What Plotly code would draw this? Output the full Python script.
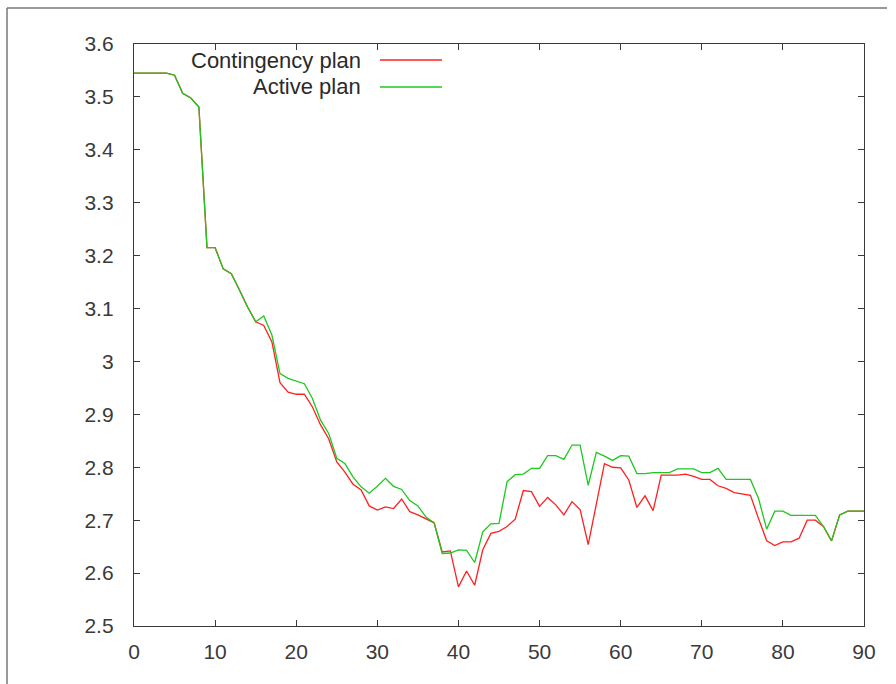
import plotly.graph_objects as go

# Time steps (x) and plan cost for each series
steps = list(range(0, 91))

contingency = [
    3.545, 3.545, 3.545, 3.545, 3.545, 3.541, 3.507, 3.498, 3.481, 3.215,
    3.215, 3.175, 3.166, 3.135, 3.103, 3.075, 3.068, 3.037, 2.960, 2.942,
    2.938, 2.938, 2.914, 2.880, 2.854, 2.810, 2.791, 2.768, 2.757, 2.727,
    2.719, 2.725, 2.722, 2.740, 2.716, 2.710, 2.702, 2.695, 2.640, 2.642,
    2.574, 2.604, 2.577, 2.644, 2.675, 2.679, 2.688, 2.702, 2.756, 2.754,
    2.726, 2.743, 2.729, 2.710, 2.735, 2.720, 2.654, 2.732, 2.807, 2.800,
    2.799, 2.776, 2.724, 2.746, 2.718, 2.785, 2.785, 2.785, 2.787, 2.783,
    2.777, 2.777, 2.765, 2.760, 2.752, 2.749, 2.747, 2.703, 2.661, 2.652,
    2.659, 2.659, 2.666, 2.700, 2.700, 2.688, 2.661, 2.710, 2.717, 2.717,
    2.717,
]

active = [
    3.545, 3.545, 3.545, 3.545, 3.545, 3.541, 3.507, 3.498, 3.481, 3.215,
    3.215, 3.175, 3.166, 3.135, 3.103, 3.075, 3.086, 3.050, 2.977, 2.968,
    2.963, 2.958, 2.930, 2.889, 2.864, 2.817, 2.807, 2.782, 2.763, 2.751,
    2.764, 2.779, 2.764, 2.758, 2.737, 2.727, 2.706, 2.695, 2.637, 2.638,
    2.644, 2.643, 2.620, 2.678, 2.693, 2.694, 2.773, 2.786, 2.787, 2.798,
    2.798, 2.822, 2.822, 2.815, 2.842, 2.842, 2.766, 2.828, 2.821, 2.813,
    2.822, 2.821, 2.788, 2.788, 2.790, 2.790, 2.790, 2.797, 2.797, 2.797,
    2.790, 2.790, 2.798, 2.777, 2.777, 2.777, 2.777, 2.741, 2.683, 2.717,
    2.717, 2.709, 2.709, 2.709, 2.709, 2.688, 2.661, 2.710, 2.717, 2.717,
    2.717,
]

series_names = ["Contingency plan", "Active plan"]
series_colors = ["#ff2020", "#1ec81e"]

x_ticks = [0, 10, 20, 30, 40, 50, 60, 70, 80, 90]
x_tick_labels = ["0", "10", "20", "30", "40", "50", "60", "70", "80", "90"]
y_ticks = [2.5, 2.6, 2.7, 2.8, 2.9, 3.0, 3.1, 3.2, 3.3, 3.4, 3.5, 3.6]
y_tick_labels = ["2.5", "2.6", "2.7", "2.8", "2.9", "3", "3.1", "3.2", "3.3", "3.4", "3.5", "3.6"]

W, H = 896, 684
L, R, T, B = 134, 32, 44, 58
plot_w = W - L - R
plot_h = H - T - B


def px_to_paper_x(px):
    return (px - L) / plot_w


def px_to_paper_y(py):
    return (H - B - py) / plot_h


fig = go.Figure()
for name, vals, col in zip(series_names, [contingency, active], series_colors):
    fig.add_trace(go.Scatter(
        x=steps, y=vals, mode="lines", name=name,
        line=dict(color=col, width=1.3),
        showlegend=False,
    ))

axis_common = dict(
    showgrid=False, zeroline=False,
    showline=True, linecolor="#3a3a3a", linewidth=1.3, mirror="ticks",
    ticks="inside", ticklen=6, tickwidth=1.2, tickcolor="#3a3a3a",
    tickfont=dict(family="Liberation Sans", size=21, color="#3a3a3a"),
)

fig.update_xaxes(range=[0, 90], tickvals=x_ticks, ticktext=x_tick_labels,
                 ticklabelstandoff=7, **axis_common)
fig.update_yaxes(range=[2.5, 3.6], tickvals=y_ticks, ticktext=y_tick_labels,
                 ticklabelstandoff=15, **axis_common)

# Key: label on the left, line sample on the right
key_rows_y = [60, 87]
shapes = []
annotations = []
for name, col, ky in zip(series_names, series_colors, key_rows_y):
    annotations.append(dict(
        x=px_to_paper_x(363), y=px_to_paper_y(ky), xref="paper", yref="paper",
        text=name, showarrow=False, xanchor="right", yanchor="middle",
        font=dict(family="Liberation Sans", size=22, color="#2a2a2a"),
    ))
    shapes.append(dict(
        type="line", xref="paper", yref="paper",
        x0=px_to_paper_x(380), x1=px_to_paper_x(442),
        y0=px_to_paper_y(ky), y1=px_to_paper_y(ky),
        line=dict(color=col, width=1.3),
    ))

# Outer frame lines
frame_col = "#777777"
shapes.append(dict(type="line", xref="paper", yref="paper",
                   x0=px_to_paper_x(7), x1=px_to_paper_x(887),
                   y0=px_to_paper_y(8), y1=px_to_paper_y(8),
                   line=dict(color=frame_col, width=1.5)))
shapes.append(dict(type="line", xref="paper", yref="paper",
                   x0=px_to_paper_x(7), x1=px_to_paper_x(7),
                   y0=px_to_paper_y(8), y1=px_to_paper_y(684),
                   line=dict(color=frame_col, width=1.5)))

fig.update_layout(
    width=W, height=H,
    margin=dict(l=L, r=R, t=T, b=B),
    paper_bgcolor="white", plot_bgcolor="white",
    shapes=shapes, annotations=annotations,
    showlegend=False,
)

fig.write_html("out.html")
